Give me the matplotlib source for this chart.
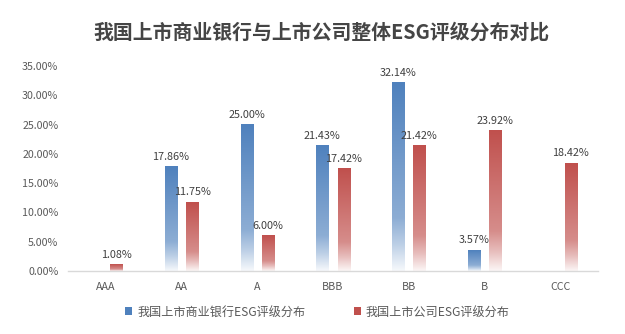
import numpy as np
import matplotlib
matplotlib.use("Agg")
import matplotlib.pyplot as plt
from matplotlib.patches import Patch
from matplotlib.colors import to_rgb

plt.rcParams['font.family'] = ['Noto Sans CJK SC', 'DejaVu Sans']

categories = ["AAA", "AA", "A", "BBB", "BB", "B", "CCC"]
bank_values = [np.nan, 17.86, 25.00, 21.43, 32.14, 3.57, np.nan]
company_values = [1.08, 11.75, 6.00, 17.42, 21.42, 23.92, 18.42]
series_names = ["我国上市商业银行ESG评级分布", "我国上市公司ESG评级分布"]
title = "我国上市商业银行与上市公司整体ESG评级分布对比"
yticks = [0, 5, 10, 15, 20, 25, 30, 35]

blue = "#4F81BD"
red = "#C0504D"
text_color = "#595959"

fig = plt.figure(figsize=(6.25, 3.34), dpi=100)
ax = fig.add_axes([0.1088, 0.1886, 0.8480, 0.6138])


def gradient_image(color, n=200):
    base = np.array(to_rgb(color))
    white = np.ones(3)
    t = np.linspace(0, 1, n)  # 0 = top, 1 = bottom
    stops_t = [0.0, 0.72, 0.86, 1.0]
    stops_w = [0.0, 0.35, 0.62, 0.95]
    w = np.interp(t, stops_t, stops_w)
    img = base[None, :] * (1 - w[:, None]) + white[None, :] * w[:, None]
    return img[:, None, :]


width = 0.16
offset = 0.14
x = np.arange(len(categories))

for vals, col, sign in [(bank_values, blue, -1), (company_values, red, 1)]:
    img = gradient_image(col)
    for xi, v in zip(x, vals):
        if v is None or np.isnan(v):
            continue
        cx = xi + sign * offset
        ax.imshow(img, extent=(cx - width / 2, cx + width / 2, 0, v),
                  aspect='auto', origin='upper', interpolation='bilinear', zorder=2)
        ax.annotate(f"{v:.2f}%", xy=(cx, v), xytext=(0, 3.5), textcoords='offset points',
                    ha='center', va='bottom', fontsize=7.8, color="#404040")

ax.set_xlim(-0.5, len(categories) - 0.5)
ax.set_ylim(0, 35)
ax.set_yticks(yticks)
ax.set_yticklabels([f"{v:.2f}%" for v in yticks], fontsize=7.7, color=text_color)
ax.set_xticks(x)
ax.set_xticklabels(categories, fontsize=7.7, color=text_color)
ax.tick_params(axis='both', length=0)
ax.tick_params(axis='y', pad=7)
ax.tick_params(axis='x', pad=8)
for s in ['top', 'right', 'left']:
    ax.spines[s].set_visible(False)
ax.spines['bottom'].set_color('#D9D9D9')
ax.spines['bottom'].set_linewidth(1.0)

fig.text(0.515, 0.905, title, ha='center', va='center', fontsize=14.3,
         fontweight='bold', color="#454545")

handles = [Patch(facecolor=blue, edgecolor='none'), Patch(facecolor=red, edgecolor='none')]
fig.legend(handles, series_names, loc='center', bbox_to_anchor=(0.508, 0.066), ncol=2,
           frameon=False, fontsize=8.7, handlelength=0.6, handleheight=0.6,
           handletextpad=0.4, columnspacing=4.0, labelcolor=text_color)

fig.savefig("out.png", dpi=100)
